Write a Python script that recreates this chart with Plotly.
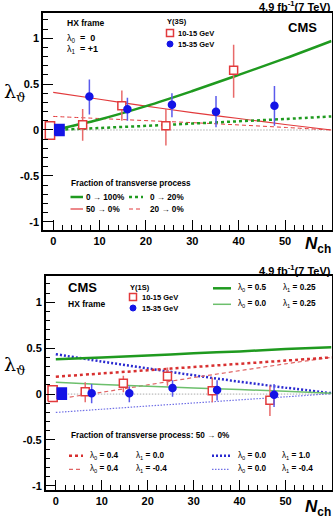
import plotly.graph_objects as go

W, H = 333, 519

# ---------------- data: top panel (Upsilon(3S)) ----------------
top_red_x = [6.35, 14.8, 24.3, 38.9]
top_red_y = [0.057, 0.263, 0.047, 0.65]
top_red_plus = [0.173, 0.167, 0.183, 0.28]
top_red_minus = [0.173, 0.163, 0.217, 0.30]

top_blue_x = [7.8, 16.0, 25.6, 35.1, 47.7]
top_blue_y = [0.364, 0.227, 0.274, 0.20, 0.263]
top_blue_plus = [0.186, 0.123, 0.126, 0.17, 0.217]
top_blue_minus = [0.194, 0.127, 0.134, 0.17, 0.216]

# reference boxes near N_ch ~ 0: [center x, y, up, down]
top_red_box = [-0.7, 0.0, 0.09, 0.10]
top_blue_box = [1.34, 0.0, 0.06, 0.06]

curve_x = [0, 10, 20, 30, 40, 50, 60]
top_green_solid = [0.0, 0.115, 0.26, 0.425, 0.60, 0.78, 0.97]
top_green_dash = [0.0, 0.022, 0.045, 0.07, 0.095, 0.12, 0.148]
top_red_solid = [0.41, 0.335, 0.26, 0.19, 0.125, 0.06, 0.0]
top_red_dash = [0.148, 0.125, 0.102, 0.08, 0.055, 0.028, 0.0]

# ---------------- data: bottom panel (Upsilon(1S)) ----------------
bot_red_x = [6.4, 14.7, 24.3, 34.05, 46.6]
bot_red_y = [0.025, 0.117, 0.195, 0.036, -0.066]
bot_red_plus = [0.105, 0.083, 0.095, 0.144, 0.156]
bot_red_minus = [0.115, 0.097, 0.105, 0.126, 0.174]

bot_blue_x = [7.8, 16.0, 25.4, 35.1, 47.5]
bot_blue_y = [0.01, 0.01, 0.066, 0.044, -0.008]
bot_blue_plus = [0.10, 0.075, 0.084, 0.106, 0.118]
bot_blue_minus = [0.11, 0.10, 0.096, 0.114, 0.132]

bot_red_box = [-0.7, 0.0, 0.09, 0.08]
bot_blue_box = [1.3, 0.0, 0.066, 0.055]

bot_green_thick = [0.38, 0.40, 0.42, 0.445, 0.465, 0.49, 0.51]
bot_green_thin = [0.128, 0.105, 0.085, 0.067, 0.05, 0.03, 0.01]
bot_red_thick = [0.19, 0.225, 0.26, 0.295, 0.33, 0.365, 0.40]
bot_red_thin = [-0.055, 0.02, 0.10, 0.18, 0.255, 0.33, 0.40]
bot_blue_thick = [0.435, 0.355, 0.28, 0.205, 0.135, 0.07, 0.01]
bot_blue_thin = [-0.2, -0.165, -0.13, -0.097, -0.063, -0.03, 0.005]

zero_x = [0, 60]
zero_y = [0, 0]

x_tickvals = [0, 10, 20, 30, 40, 50]
x_ticktext = ["0", "10", "20", "30", "40", "50"]
y_tickvals = [-1, -0.5, 0, 0.5, 1]
y_ticktext = ["-1", "-0.5", "0", "0.5", "1"]

# ---------------- styles ----------------
RED = "#e23a3c"
RED_ERR = "#e86a6a"
BLUE = "#1414e6"
BLUE_ERR = "#5a5aec"
GREEN = "#1f9a1f"
LGREEN = "#6cbf6c"
RED_T = "#d83030"
RED_L = "#e06464"
BLUE_T = "#2a2ad0"
BLUE_L = "#7070e6"
FONT = "Liberation Sans"
BOX_HALF = 1.0
DASH_THICK = "3px,3px"
DASH_THIN = "4px,3px"
DOT_THICK = "2px,2px"
DOT_THIN = "1.5px,1.5px"
LEG = 8.2
SMALL = 7.5


def px(x):
    return x / W


def py(y):
    return 1 - y / H


fig = go.Figure()


def add_line(x, y, color, width, dash, xa, ya):
    fig.add_trace(go.Scatter(x=x, y=y, mode="lines", xaxis=xa, yaxis=ya,
                             line=dict(color=color, width=width, dash=dash, shape="spline"),
                             hoverinfo="skip", showlegend=False))


def add_box(b, color, filled, xa, ya):
    cx, cy, up, dn = b
    xs = [cx - BOX_HALF, cx + BOX_HALF, cx + BOX_HALF, cx - BOX_HALF, cx - BOX_HALF]
    ys = [cy - dn, cy - dn, cy + up, cy + up, cy - dn]
    fig.add_trace(go.Scatter(x=xs, y=ys, mode="lines", fill="toself", xaxis=xa, yaxis=ya,
                             fillcolor=color if filled else "white",
                             line=dict(color=color, width=1.5),
                             hoverinfo="skip", showlegend=False))


def add_points(x, y, plus, minus, color, fill, ecolor, symbol, size, xa, ya):
    fig.add_trace(go.Scatter(x=x, y=y, mode="markers", xaxis=xa, yaxis=ya,
                             marker=dict(symbol=symbol, size=size, color=fill,
                                         line=dict(color=color, width=1.5)),
                             error_y=dict(type="data", array=plus, arrayminus=minus, symmetric=False,
                                          color=ecolor, thickness=1.5, width=0),
                             hoverinfo="skip", showlegend=False))


# top panel
add_line(zero_x, zero_y, "#aaaaaa", 1, DOT_THIN, "x", "y")
add_line(curve_x, top_red_dash, RED, 1, DASH_THIN, "x", "y")
add_line(curve_x, top_red_solid, RED, 1.2, "solid", "x", "y")
add_line(curve_x, top_green_dash, GREEN, 2.5, DASH_THICK, "x", "y")
add_line(curve_x, top_green_solid, GREEN, 2.5, "solid", "x", "y")
add_box(top_red_box, RED, False, "x", "y")
add_box(top_blue_box, BLUE, True, "x", "y")
add_points(top_red_x, top_red_y, top_red_plus, top_red_minus, RED, "white", RED_ERR, "square", 8, "x", "y")
add_points(top_blue_x, top_blue_y, top_blue_plus, top_blue_minus, BLUE, BLUE, BLUE_ERR, "circle", 7, "x", "y")

# bottom panel
add_line(zero_x, zero_y, "#aaaaaa", 1, DOT_THIN, "x2", "y2")
add_line(curve_x, bot_blue_thin, BLUE_L, 1.2, DOT_THIN, "x2", "y2")
add_line(curve_x, bot_blue_thick, BLUE_T, 2.5, DOT_THICK, "x2", "y2")
add_line(curve_x, bot_red_thin, RED_L, 1.2, DASH_THIN, "x2", "y2")
add_line(curve_x, bot_red_thick, RED_T, 2.5, DASH_THICK, "x2", "y2")
add_line(curve_x, bot_green_thin, LGREEN, 1.5, "solid", "x2", "y2")
add_line(curve_x, bot_green_thick, GREEN, 2.5, "solid", "x2", "y2")
add_box(bot_red_box, RED, False, "x2", "y2")
add_box(bot_blue_box, BLUE, True, "x2", "y2")
add_points(bot_red_x, bot_red_y, bot_red_plus, bot_red_minus, RED, "white", RED_ERR, "square", 8, "x2", "y2")
add_points(bot_blue_x, bot_blue_y, bot_blue_plus, bot_blue_minus, BLUE, BLUE, BLUE_ERR, "circle", 7, "x2", "y2")


def axis(domain, rng, tv, tt, mdt, anchor):
    return dict(domain=domain, range=rng, tickvals=tv, ticktext=tt, anchor=anchor,
                automargin=False,
                ticks="inside", ticklen=10, tickwidth=1.2, tickcolor="black",
                showline=True, linecolor="black", linewidth=1.5, mirror=True,
                showgrid=False, zeroline=False, fixedrange=True,
                tickfont=dict(family=FONT, size=11, weight="bold", color="black"),
                minor=dict(ticks="inside", ticklen=5, tickwidth=1, dtick=mdt, tick0=0,
                           tickcolor="black", showgrid=False))


fig.update_layout(
    width=W, height=H, margin=dict(l=0, r=0, t=0, b=0, autoexpand=False),
    paper_bgcolor="white", plot_bgcolor="white", showlegend=False,
    xaxis=axis([px(43), px(331.5)], [-2.2, 60], x_tickvals, x_ticktext, 2, "y"),
    yaxis=axis([py(230), py(13)], [-1.09, 1.275], y_tickvals, y_ticktext, 0.1, "x"),
    xaxis2=axis([px(45.7), px(331.5)], [-2.2, 60], x_tickvals, x_ticktext, 2, "y2"),
    yaxis2=axis([py(490), py(275.7)], [-1.045, 1.29], y_tickvals, y_ticktext, 0.1, "x2"),
)

ann = []
shapes = []


def text(x, y, s, size=10, anchor="left", family=FONT, color="black"):
    ann.append(dict(x=px(x), y=py(y), xref="paper", yref="paper", text=s, showarrow=False,
                    xanchor=anchor, yanchor="middle", borderpad=0,
                    font=dict(family=family, size=size, color=color)))


def seg(x0, x1, y, color, width, dash):
    shapes.append(dict(type="line", xref="paper", yref="paper", x0=px(x0), x1=px(x1),
                       y0=py(y), y1=py(y), line=dict(color=color, width=width, dash=dash)))


def sq(x, y, color):
    shapes.append(dict(type="rect", xref="paper", yref="paper", x0=px(x - 3.5), x1=px(x + 3.5),
                       y0=py(y + 3.5), y1=py(y - 3.5), line=dict(color=color, width=1.5), fillcolor="white"))


def dot(x, y, color):
    shapes.append(dict(type="circle", xref="paper", yref="paper", x0=px(x - 3), x1=px(x + 3),
                       y0=py(y + 3), y1=py(y - 3), line=dict(color=color, width=1), fillcolor=color))


# ---- top panel texts ----
text(332, 6, "<b>4.9 fb<sup>-1</sup>(7 TeV)</b>", 11, "right")
text(318, 27, "<b>CMS</b>", 13, "right")
text(66, 23, "<b>HX frame</b>", 8.5)
text(66, 38, "λ<sub>0</sub>  <b>=  0</b>", 9)
text(66, 50, "λ<sub>1</sub>  <b>= +1</b>", 9)
text(166, 22, "<b>Υ(3S)</b>", SMALL)
sq(170, 33, RED)
text(177, 33, "<b>10-15 GeV</b>", SMALL)
dot(170, 44, BLUE)
text(177, 44, "<b>15-35 GeV</b>", SMALL)
text(70, 183, "<b>Fraction of transverse process</b>", LEG)
seg(70.5, 83, 197, GREEN, 2.5, "solid")
text(85, 197, "<b>0 → 100%</b>", LEG)
seg(129, 143, 197, GREEN, 2.5, DASH_THICK)
text(149, 197, "<b>0 → 20%</b>", LEG)
seg(70.5, 83, 209, RED, 1.2, "solid")
text(85, 209, "<b>50 → 0%</b>", LEG)
seg(129, 143, 209, RED, 1, DASH_THIN)
text(149, 209, "<b>20 → 0%</b>", LEG)
text(3, 93, "λ<sub>ϑ</sub>", 19, "left", "DejaVu Serif")
text(332, 245, "<b><i>N</i><sub>ch</sub></b>", 17, "right")

# ---- bottom panel texts ----
text(332, 270, "<b>4.9 fb<sup>-1</sup>(7 TeV)</b>", 11, "right")
text(67, 288, "<b>CMS</b>", 13)
text(67, 304, "<b>HX frame</b>", 8.5)
text(129, 287, "<b>Υ(1S)</b>", SMALL)
sq(133, 297, RED)
text(141, 297, "<b>10-15 GeV</b>", SMALL)
dot(133, 308, BLUE)
text(141, 308, "<b>15-35 GeV</b>", SMALL)
seg(213, 231, 288.3, GREEN, 2.5, "solid")
text(237, 288.3, "λ<sub>0</sub><b> = 0.5</b>", LEG)
text(282, 288.3, "λ<sub>1</sub><b> = 0.25</b>", LEG)
seg(213, 231, 304.3, LGREEN, 1.5, "solid")
text(237, 304.3, "λ<sub>0</sub><b> = 0.0</b>", LEG)
text(282, 304.3, "λ<sub>1</sub><b> = 0.25</b>", LEG)
text(70, 435, "<b>Fraction of transverse process: 50 → 0%</b>", LEG)
seg(69, 83, 455.7, RED_T, 2.5, DASH_THICK)
text(89, 455.7, "λ<sub>0</sub><b> = 0.4</b>", LEG)
text(135, 455.7, "λ<sub>1</sub><b> = 0.0</b>", LEG)
seg(69, 83, 469.3, RED_L, 1.2, DASH_THIN)
text(89, 469.3, "λ<sub>0</sub><b> = 0.4</b>", LEG)
text(135, 469.3, "λ<sub>1</sub><b> = -0.4</b>", LEG)
seg(212, 230, 455.7, BLUE_T, 2.5, DOT_THICK)
text(237, 455.7, "λ<sub>0</sub><b> = 0.0</b>", LEG)
text(281, 455.7, "λ<sub>1</sub><b> = 1.0</b>", LEG)
seg(212, 230, 469.3, BLUE_L, 1.2, DOT_THIN)
text(237, 469.3, "λ<sub>0</sub><b> = 0.0</b>", LEG)
text(281, 469.3, "λ<sub>1</sub><b> = -0.4</b>", LEG)
text(3, 365, "λ<sub>ϑ</sub>", 19, "left", "DejaVu Serif")
text(332, 508, "<b><i>N</i><sub>ch</sub></b>", 17, "right")

fig.update_layout(annotations=ann, shapes=shapes)

fig.write_html("out.html")
